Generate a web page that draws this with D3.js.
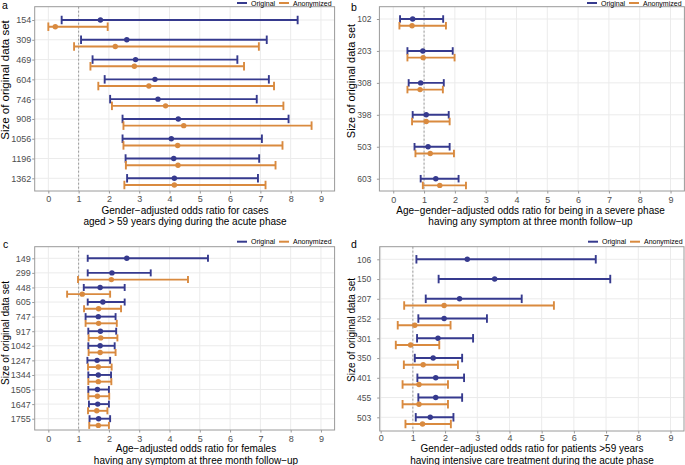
<!DOCTYPE html>
<html>
<head>
<meta charset="utf-8">
<script src="https://cdn.jsdelivr.net/npm/d3@7"></script>
<style>
body { margin: 0; background: #fff; }
svg { display: block; }
text { font-family: "Liberation Sans", Arial, sans-serif; }
</style>
</head>
<body>
<svg id="fig" width="685" height="465"></svg>
<script>
// odds ratios, each row is [lower, estimate, upper]; null = not shown
const xTicks = [0, 1, 2, 3, 4, 5, 6, 7, 8, 9];
const seriesNames = ["Original", "Anonymized"];

const aSizes = ["154", "309", "469", "604", "746", "908", "1056", "1196", "1362"];
const aOrig = [[0.44, 1.72, 8.23], [1.08, 2.59, 7.21], [1.46, 2.88, 6.24], [1.86, 3.52, 7.28], [2.04, 3.62, 6.88],
               [2.45, 4.29, 7.93], [2.45, 4.06, 7.05], [2.55, 4.14, 6.96], [2.60, 4.16, 6.92]];
const aAnon = [[0.00, 0.23, 1.96], [0.85, 2.21, 6.95], [1.39, 2.84, 6.46], [1.65, 3.32, 7.45], [2.10, 3.87, 7.76],
               [2.48, 4.47, 8.69], [2.48, 4.27, 7.73], [2.56, 4.28, 7.50], [2.51, 4.16, 7.17]];

const bSizes = ["102", "203", "308", "398", "503", "603"];
const bOrig = [[0.22, 0.63, 1.62], [0.46, 0.96, 1.93], [0.50, 0.89, 1.64], [0.63, 1.07, 1.80], [0.69, 1.13, 1.83], [0.89, 1.38, 2.12]];
const bAnon = [[0.20, 0.61, 1.71], [0.46, 0.97, 1.99], [0.46, 0.87, 1.61], [0.61, 1.07, 1.83], [0.72, 1.20, 1.97], [0.96, 1.51, 2.36]];

const cSizes = ["149", "299", "448", "605", "747", "917", "1042", "1247", "1344", "1505", "1647", "1755"];
const cOrig = [[1.30, 2.59, 5.27], [1.30, 2.10, 3.38], [1.17, 1.71, 2.52], [1.30, 1.80, 2.52], [1.23, 1.65, 2.22], [1.32, 1.72, 2.24],
               [1.32, 1.71, 2.19], [1.29, 1.61, 2.04], [1.32, 1.65, 2.07], [1.32, 1.62, 2.00], [1.34, 1.63, 2.00], [1.36, 1.66, 2.04]];
const cAnon = [null, [0.98, 2.08, 4.61], [0.62, 1.12, 2.04], [1.18, 1.66, 2.40], [1.23, 1.66, 2.26], [1.33, 1.73, 2.28],
               [1.33, 1.71, 2.22], [1.31, 1.65, 2.09], [1.32, 1.65, 2.08], [1.32, 1.62, 2.01], [1.31, 1.60, 1.95], [1.35, 1.65, 2.00]];

const dSizes = ["106", "150", "207", "252", "301", "350", "401", "455", "503"];
const dOrig = [[1.11, 2.69, 6.68], [1.80, 3.54, 7.13], [1.40, 2.45, 4.38], [1.17, 1.97, 3.30], [1.13, 1.78, 2.87],
               [1.06, 1.63, 2.53], [1.14, 1.71, 2.59], [1.17, 1.71, 2.53], [1.09, 1.54, 2.26]];
const dAnon = [null, null, [0.73, 1.97, 5.38], [0.53, 1.06, 2.17], [0.47, 0.93, 1.82],
               [0.72, 1.32, 2.40], [0.68, 1.19, 2.09], [0.68, 1.19, 2.09], [0.77, 1.30, 2.18]];

const colors = ["#363a8e", "#d98a3f"];

const panels = [
  {id: "a", sizes: aSizes, series: [aOrig, aAnon],
   title: ["Gender\u2212adjusted odds ratio for cases", "aged > 59 years dying during the acute phase"],
   left: 34.7, right: 334.6, top: 6.7, bottom: 191, xDomain: [-0.45, 9.45], yFirst: 20, yLast: 178.3,
   cap: 8.5, yPad: 1, yFont: 9, xPad: 2.5, titleX: 185, titleY: [213.5, 224.5], yTitle: [9, 80, 11.5],
   legendX: 237, legendY: 3, label: [2, 9]},
  {id: "b", sizes: bSizes, series: [bOrig, bAnon],
   title: ["Age\u2212gender\u2212adjusted odds ratio for being in a severe phase", "having any symptom at three month follow\u2212up"],
   left: 379.4, right: 684.4, top: 6.7, bottom: 191, xDomain: [-0.45, 9.45], yFirst: 19, yLast: 178.7,
   cap: 7.5, yPad: 5.5, yFont: 8.5, xPad: 3, titleX: 530.5, titleY: [213.5, 224.5], yTitle: [354.5, 81, 11],
   legendX: 587, legendY: 3, label: [351, 11]},
  {id: "c", sizes: cSizes, series: [cOrig, cAnon],
   title: ["Age\u2212adjusted odds ratio for females", "having any symptom at three month follow\u2212up"],
   left: 34.7, right: 334.6, top: 246.7, bottom: 430, xDomain: [-0.45, 9.45], yFirst: 258.3, yLast: 418.7,
   cap: 7, yPad: 1.5, yFont: 9, xPad: 3, titleX: 196, titleY: [451.5, 463.5], yTitle: [9, 333, 10],
   legendX: 237, legendY: 241.7, label: [3, 248]},
  {id: "d", sizes: dSizes, series: [dOrig, dAnon],
   title: ["Gender\u2212adjusted odds ratio for patients >59 years", "having intensive care treatment during the acute phase"],
   left: 379.7, right: 684, top: 246.7, bottom: 431, xDomain: [-0.03, 9.42], yFirst: 259.3, yLast: 417.3,
   cap: 8.5, yPad: 6, yFont: 8.5, xPad: 1.5, titleX: 532, titleY: [451.5, 463.5], yTitle: [355, 330, 10],
   legendX: 588, legendY: 241.7, label: [351, 248]}
];

const svg = d3.select("#fig");
svg.append("rect").attr("width", 685).attr("height", 465).attr("fill", "#fff");

function drawPanel(p) {
  const g = svg.append("g").attr("class", "panel-" + p.id);
  const x = d3.scaleLinear().domain(p.xDomain).range([p.left, p.right]);
  const y = d3.scalePoint().domain(p.sizes).range([p.yFirst, p.yLast]);
  const off = 6.7; // anonymized bar sits a bit below the original

  // grid
  g.selectAll(".vgrid").data(xTicks).enter().append("line")
    .attr("x1", d => x(d)).attr("x2", d => x(d))
    .attr("y1", p.top).attr("y2", p.bottom)
    .attr("stroke", "#ebebeb").attr("stroke-width", 1);
  g.selectAll(".hgrid").data(p.sizes).enter().append("line")
    .attr("x1", p.left).attr("x2", p.right)
    .attr("y1", d => y(d)).attr("y2", d => y(d))
    .attr("stroke", "#ebebeb").attr("stroke-width", 1);

  // reference line at OR = 1
  g.append("line")
    .attr("x1", x(1)).attr("x2", x(1))
    .attr("y1", p.top).attr("y2", p.bottom)
    .attr("stroke", "#777").attr("stroke-width", 0.7)
    .attr("stroke-dasharray", "2,2");

  p.series.forEach((rows, si) => {
    const col = colors[si];
    const dy = si * off;
    const pts = rows.map((r, i) => r ? {size: p.sizes[i], lo: r[0], est: r[1], hi: r[2]} : null)
                    .filter(d => d);
    const eb = g.append("g").selectAll("g").data(pts).enter().append("g");
    eb.append("line")
      .attr("x1", d => x(d.lo)).attr("x2", d => x(d.hi))
      .attr("y1", d => y(d.size) + dy).attr("y2", d => y(d.size) + dy)
      .attr("stroke", col).attr("stroke-width", 1.9);
    ["lo", "hi"].forEach(k => {
      eb.append("line")
        .attr("x1", d => x(d[k])).attr("x2", d => x(d[k]))
        .attr("y1", d => y(d.size) + dy - p.cap / 2)
        .attr("y2", d => y(d.size) + dy + p.cap / 2)
        .attr("stroke", col).attr("stroke-width", 1.9);
    });
    eb.append("circle")
      .attr("cx", d => x(d.est)).attr("cy", d => y(d.size) + dy)
      .attr("r", 2.7).attr("fill", col);
  });

  // border
  g.append("rect")
    .attr("x", p.left).attr("y", p.top)
    .attr("width", p.right - p.left).attr("height", p.bottom - p.top)
    .attr("fill", "none").attr("stroke", "#9a9a9a").attr("stroke-width", 1);

  // axes
  const xa = g.append("g").attr("transform", `translate(0,${p.bottom})`)
    .call(d3.axisBottom(x).tickValues(xTicks).tickSize(2.5).tickPadding(p.xPad).tickFormat(d3.format("d")));
  const ya = g.append("g").attr("transform", `translate(${p.left},0)`)
    .call(d3.axisLeft(y).tickSize(2.5).tickPadding(p.yPad));
  [xa, ya].forEach(a => {
    a.select(".domain").remove();
    a.selectAll(".tick line").attr("stroke", "#9a9a9a");
    a.selectAll(".tick text").attr("fill", "#4d4d4d").style("font-size", "9px")
      .style("font-family", '"Liberation Sans", Arial, sans-serif');
  });
  ya.selectAll(".tick text").style("font-size", p.yFont + "px");

  // axis titles
  g.selectAll(".xtitle").data(p.title).enter().append("text")
    .attr("x", p.titleX).attr("y", (d, i) => p.titleY[i])
    .attr("text-anchor", "middle").style("font-size", "10px").attr("fill", "#000")
    .text(d => d);
  g.append("text")
    .attr("transform", `translate(${p.yTitle[0]},${p.yTitle[1]}) rotate(-90)`)
    .attr("text-anchor", "middle").style("font-size", p.yTitle[2] + "px").attr("fill", "#000")
    .text("Size of original data set");

  // legend
  const lg = g.append("g").attr("transform", `translate(${p.legendX},${p.legendY})`);
  const offsets = [0, 42];
  seriesNames.forEach((s, i) => {
    lg.append("line").attr("x1", offsets[i]).attr("x2", offsets[i] + 10)
      .attr("y1", 0).attr("y2", 0).attr("stroke", colors[i]).attr("stroke-width", 2);
    lg.append("text").attr("x", offsets[i] + 14).attr("y", 2.5)
      .style("font-size", "7px").attr("fill", "#000").text(s);
  });

  g.append("text").attr("x", p.label[0]).attr("y", p.label[1])
    .style("font-size", "10.5px").attr("fill", "#000").text(p.id);
}

panels.forEach(drawPanel);
</script>
</body>
</html>
